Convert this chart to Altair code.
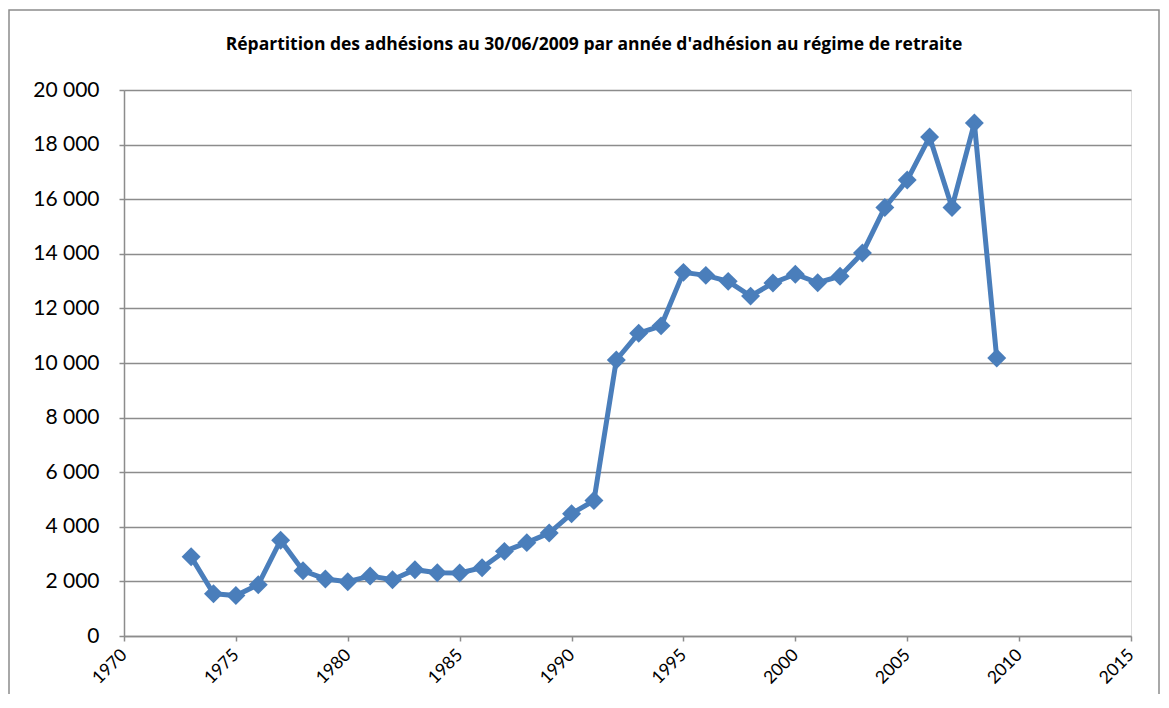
import altair as alt
import pandas as pd

years = list(range(1973, 2010))
adhesions = [2900, 1550, 1480, 1880, 3510, 2390, 2090, 1990, 2200, 2060,
             2430, 2320, 2310, 2500, 3100, 3420, 3770, 4480, 4960,
             10110, 11090, 11360, 13320, 13210, 12990, 12450, 12930, 13250,
             12940, 13180, 14030, 15700, 16700, 18280, 15700, 18790, 10180]

title_text = "Répartition des adhésions au 30/06/2009 par année d'adhésion au régime de retraite"

df = pd.DataFrame({"annee": years, "adhesions": adhesions})

W, H = 1007, 546
FONT = "Lato"
BLUE = "#4A7EBB"
GRID = "#8c8c8c"

x = alt.X("annee:Q", scale=alt.Scale(domain=[1970, 2015], nice=False),
          axis=alt.Axis(values=list(range(1970, 2016, 5)), format="d", title=None,
                        labelAngle=-45, labelAlign="right", labelBaseline="middle",
                        labelFontSize=17.5, labelPadding=11, tickSize=5, grid=False,
                        domainColor=GRID, tickColor=GRID, domainWidth=1.5, tickWidth=1.5,
                        labelColor="#000000", labelFont=FONT))
y = alt.Y("adhesions:Q", scale=alt.Scale(domain=[0, 20000], nice=False),
          axis=alt.Axis(values=list(range(0, 20001, 2000)), title=None,
                        labelExpr="replace(format(datum.value, ','), ',', ' ')",
                        labelFontSize=21, labelPadding=20, tickSize=5,
                        gridColor=GRID, gridWidth=1.5, domainColor=GRID, tickColor=GRID,
                        domainWidth=1.5, tickWidth=1.5, labelColor="#000000", labelFont=FONT))

base = alt.Chart(df)
line = base.mark_line(color=BLUE, strokeWidth=5).encode(x=x, y=y)
pts = base.mark_point(shape="diamond", filled=True, color=BLUE, size=360, opacity=1).encode(x=x, y=y)

title = alt.Chart(pd.DataFrame({"t": [title_text]})).mark_text(
    font="Open Sans", fontWeight="bold", fontSize=17.5, color="#000000", align="center", baseline="middle"
).encode(text="t:N", x=alt.value(594 - 124), y=alt.value(45 - 90))

border = alt.Chart(pd.DataFrame({"a": [0]})).mark_rect(
    fill=None, stroke="#8c8c8c", strokeWidth=1.5
).encode(x=alt.value(-115), x2=alt.value(1035), y=alt.value(10 - 90), y2=alt.value(720 - 90))

chart = alt.layer(border, line, pts, title).properties(
    width=W, height=H,
    autosize=alt.AutoSizeParams(type="none"),
    padding={"left": 116, "top": 82, "right": 29, "bottom": 58},
).configure_view(stroke=None).configure(background="white")

chart.save("out.html", embed_options={"renderer": "svg", "actions": False})
